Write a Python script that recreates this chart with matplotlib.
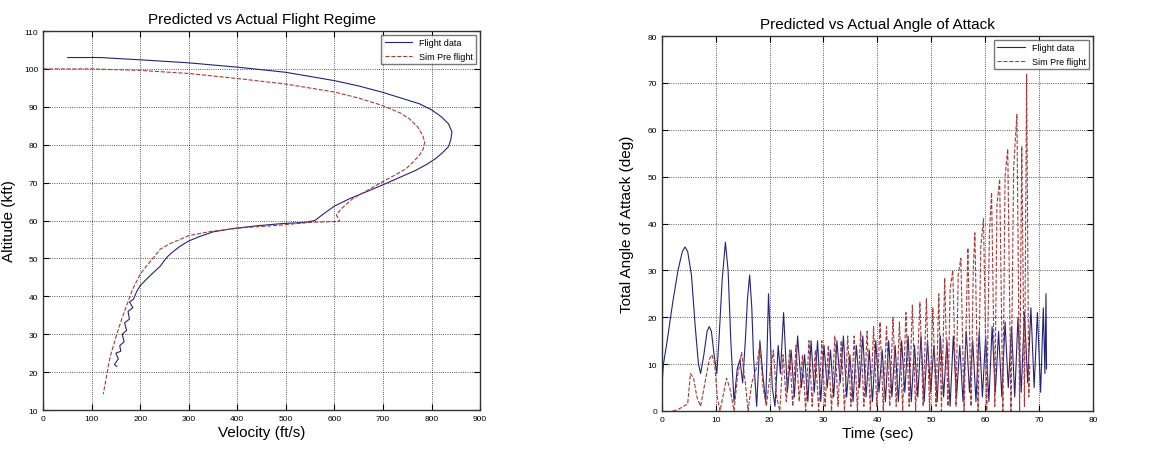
import matplotlib
import numpy as np

matplotlib.use("Agg")
import matplotlib.pyplot as plt

plt.rcParams["font.family"] = ["Liberation Sans", "DejaVu Sans"]

# left panel: velocity (ft/s) vs altitude (kft)
flight_vel = [51, 117, 200, 300, 405, 500, 600, 650, 700, 745, 775, 800, 820, 835, 842,
              840, 835, 822, 808, 790, 767, 735, 705, 670, 632, 600, 575, 560, 540,
              494, 440, 392, 350, 323, 300, 282, 265, 255, 241, 225, 213, 200, 193, 186,
              178, 185, 175, 178, 168, 172, 163, 167, 158, 160, 150, 155, 147, 152]
flight_alt = [103.0, 103.0, 102.4, 101.6, 100.4, 99.1, 96.9, 95.5, 93.8, 92.0, 90.8,
              89.2, 87.4, 85.5, 83.4, 81.5, 79.5, 77.8, 76.3, 74.8, 73.2, 71.4, 69.7,
              67.8, 65.8, 63.8, 61.5, 60.0, 59.5, 59.2, 58.6, 57.9, 57.0, 55.8, 54.6,
              53.2, 51.5, 50.3, 47.9, 46.0, 44.5, 42.8, 41.3, 39.2, 38.5, 37.0, 36.0,
              34.0, 33.0, 31.0, 30.0, 28.0, 27.0, 25.5, 25.0, 23.5, 22.0, 21.5]
sim_vel = [0, 100, 200, 300, 405, 500, 600, 650, 700, 735, 755, 772, 782, 786, 783,
           775, 762, 748, 725, 700, 670, 638, 615, 604, 611, 590, 550, 481, 412, 344,
           300, 282, 260, 241, 228, 213, 200, 185, 173, 162, 152, 138, 124]
sim_alt = [100.0, 100.0, 99.6, 98.8, 97.4, 96.0, 93.9, 92.3, 90.3, 88.4, 86.8, 84.6,
           82.4, 80.7, 78.9, 77.2, 75.4, 73.7, 72.0, 70.3, 68.1, 65.8, 63.2, 61.5,
           59.8, 59.7, 59.5, 58.7, 58.1, 57.1, 56.0, 55.0, 53.8, 52.4, 50.3, 48.0,
           45.8, 42.0, 37.9, 34.0, 30.0, 24.0, 14.2]

# right panel: time (sec) vs total angle of attack (deg)
aoa_flight_t = [0, 0.3, 1.0, 2.0, 3.0, 3.8, 4.3, 4.8, 5.5, 6.2, 6.8, 7.2, 7.8, 8.4,
                8.8, 9.2, 9.7, 10.2, 10.6, 11.2, 11.8, 12.3, 12.8, 13.4, 14.0, 14.5,
                15.0, 15.5, 15.9, 16.3, 16.7, 17.0, 17.6, 18.2, 18.8,
                19.3, 19.8, 20.2, 20.5, 21.0, 21.6, 22.0, 22.6, 23.3,
                24.0, 24.6, 25.2, 25.9, 26.5, 27.1, 27.7, 28.3, 28.9, 29.5, 30.1, 30.7,
                31.3, 31.9, 32.5, 33.1, 33.7, 34.3, 34.9, 35.5, 36.1, 36.7, 37.3, 37.9,
                38.5, 39.1, 39.7, 40.3, 40.9, 41.5, 42.1, 42.7, 43.3, 43.9, 44.5, 45.1,
                45.7, 46.3, 46.9, 47.5, 48.1, 48.7, 49.3, 49.9, 50.5, 51.1, 51.7, 52.3,
                52.9, 53.5, 54.1, 54.7, 55.3, 55.9, 56.5, 57.1, 57.7, 58.3, 58.9, 59.5,
                60.1, 60.7, 61.3, 61.9, 62.5, 63.1, 63.7, 64.3, 64.9, 65.5, 66.1, 66.7,
                67.3, 67.9, 68.5, 69.1, 69.7, 70.3, 70.8, 71.1, 71.3, 71.4]
aoa_flight = [5, 10, 15, 23, 30, 34, 35, 34, 29, 18, 10, 8, 12, 17,
              18, 17, 12, 8, 15, 28, 36, 30, 15, 2, 9, 11,
              6, 15, 24, 29, 22, 12, 1, 15, 7,
              2, 25, 14, 5, 1, 14, 8, 21, 4,
              13, 3, 16, 5, 12, 2, 15, 4, 15, 2, 14, 5,
              13, 3, 15, 6, 16, 3, 12, 2, 14, 5, 16, 3,
              13, 2, 15, 4, 13, 2, 15, 3, 14, 2, 15, 4,
              16, 2, 14, 3, 16, 2, 15, 4, 14, 2, 16, 3,
              15, 1, 16, 3, 14, 2, 17, 4, 15, 2, 17, 3,
              16, 2, 18, 4, 17, 3, 19, 5, 18, 3, 20, 4,
              21, 6, 22, 5, 21, 4, 22, 8, 25, 9]
aoa_sim_t = [2.0, 3.0, 4.0, 4.8, 5.3, 5.9, 6.5, 7.2, 8.0, 8.8, 9.3, 9.8, 10.3, 10.8,
             11.5, 12.0, 12.6, 13.4, 14.0, 14.8, 15.5, 16.0, 16.7, 17.5, 18.2, 18.8,
             19.4, 20.1, 20.7, 21.3, 21.9, 22.5, 23.1, 23.7, 24.3, 24.9, 25.5, 26.1,
             26.7, 27.3, 27.9, 28.5, 29.1, 29.7, 30.3, 30.9, 31.5, 32.1, 32.7, 33.3,
             33.9, 34.5, 35.1, 35.7, 36.3, 36.9, 37.5, 38.1, 38.7, 39.3, 39.9, 40.5,
             41.1, 41.7, 42.3, 42.9, 43.5, 44.1, 44.7, 45.3, 45.9, 46.5, 47.1, 47.9,
             48.5, 49.1, 49.7, 50.3, 50.9, 51.4, 51.9, 52.5, 53.1, 53.5, 54.0, 54.6,
             55.0, 55.5, 56.1, 56.8, 57.4, 57.8, 58.1, 58.7, 59.2, 59.7, 60.3, 60.8,
             61.2, 61.8, 62.2, 62.7, 63.3, 63.7, 64.2, 64.8, 65.3, 65.9, 66.4, 66.8,
             67.3, 67.7, 68.1, 68.3]
aoa_sim = [0, 0.3, 1, 1.5, 8, 7, 3, 1, 6, 11, 12, 10, 3, 0,
           4, 7, 5, 0, 7, 12.5, 6, 0, 6, 9, 14, 5,
           1, 8, 13, 3, 0, 12, 2, 13, 1, 14, 2, 12,
           0, 15, 1, 13, 0, 15, 1, 14, 0, 16, 1, 15,
           0, 16, 1, 16, 0, 17, 1, 17, 0, 18, 1, 19,
           0, 18, 1, 20, 1, 19, 0, 21, 1, 22.6, 0, 23.2,
           1, 24, 0, 22, 1, 25, 0, 28.4, 1, 26, 30, 1,
           29, 32.6, 0, 34.8, 1, 30, 38, 0, 35, 41, 0, 38,
           46.6, 1, 44, 49.5, 0, 50, 55.9, 0, 52, 63.3, 0, 56.5,
           1, 71.8, 3, 10]

flight_color = "#23237d"
sim_color = "#a83a3a"


def style_axes(ax):
    ax.grid(True, linestyle=":", color="#222222", linewidth=0.6)
    ax.tick_params(direction="in", top=True, right=True, labelsize=6, length=4)
    for spine in ax.spines.values():
        spine.set_color("#333333")
        spine.set_linewidth(1.0)


fig = plt.figure(figsize=(11.51, 4.52), dpi=100)

ax1 = fig.add_axes([0.0374, 0.0907, 0.3797, 0.8385])
ax1.plot(flight_vel, flight_alt, color=flight_color, linewidth=0.8, label="Flight data")
ax1.plot(sim_vel, sim_alt, color=sim_color, linewidth=0.8, linestyle="--", label="Sim Pre flight")
ax1.set_xlim(0, 900)
ax1.set_ylim(10, 110)
ax1.set_xticks(np.arange(0, 901, 100))
ax1.set_yticks(np.arange(10, 111, 10))
ax1.set_xlabel("Velocity (ft/s)", fontsize=11, labelpad=2)
ax1.set_ylabel("Altitude (kft)", fontsize=11, labelpad=6)
ax1.set_title("Predicted vs Actual Flight Regime", fontsize=11, pad=6)
style_axes(ax1)
ax1.legend(loc="upper right", fontsize=6.5, fancybox=False, edgecolor="#555555",
           borderaxespad=0.4, handlelength=3)

ax2 = fig.add_axes([0.575, 0.0885, 0.3745, 0.8296])
ax2.plot(aoa_flight_t, aoa_flight, color=flight_color, linewidth=0.8, label="Flight data")
ax2.plot(aoa_sim_t, aoa_sim, color=sim_color, linewidth=0.8, linestyle="--", label="Sim Pre flight")
ax2.set_xlim(0, 80)
ax2.set_ylim(0, 80)
ax2.set_xticks(np.arange(0, 81, 10))
ax2.set_yticks(np.arange(0, 81, 10))
ax2.set_xlabel("Time (sec)", fontsize=11, labelpad=2)
ax2.set_ylabel("Total Angle of Attack (deg)", fontsize=11, labelpad=10)
ax2.set_title("Predicted vs Actual Angle of Attack", fontsize=11, pad=6)
style_axes(ax2)
ax2.legend(loc="upper right", fontsize=6.5, fancybox=False, edgecolor="#555555",
           borderaxespad=0.4, handlelength=3)

fig.savefig("out.png", dpi=100)
